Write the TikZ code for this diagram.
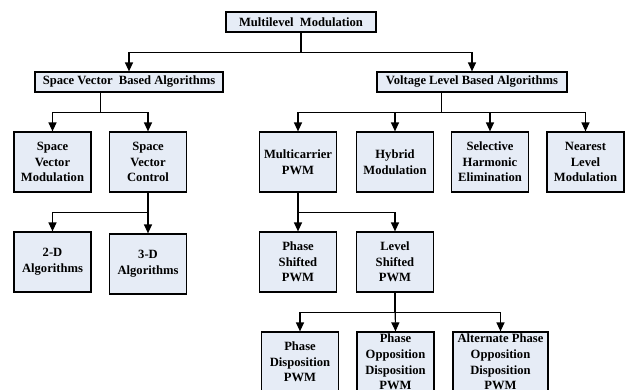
\documentclass[tikz,border=0pt]{standalone}
\usepackage{fontspec}
\setmainfont{Liberation Serif}
\usetikzlibrary{arrows.meta,calc}
\definecolor{boxfill}{HTML}{E6ECF6}
\begin{document}
\begin{tikzpicture}[x=1pt,y=-1pt,
  box/.style={draw=black,line width=1.2pt,fill=boxfill,rectangle,inner sep=0pt,
    minimum width=77pt,minimum height=60pt,align=center,
    font=\fontsize{12.6pt}{15.6pt}\selectfont\bfseries},
  wide/.style={box,minimum height=20pt},
  conn/.style={line width=1.2pt,draw=black},
  arr/.style={conn,-{Triangle[length=9pt,width=8pt]}}]
\path[use as bounding box] (0,0) rectangle (627,389);
\begin{scope}
\clip (0,0) rectangle (627,389);
% level 1-2
\node[wide,minimum width=150pt] (top) at (301,22) {Multilevel\ \ Modulation};
\node[wide,minimum width=188pt] (svba) at (129,82) {Space Vector\ \ Based Algorithms};
\node[wide,minimum width=190pt] (vlba) at (472,82) {Voltage Level Based Algorithms};
% level 3
\node[box] (smod) at (52.5,162) {Space\\Vector\\Modulation};
\node[box] (sctl) at (148,162) {Space\\Vector\\Control};
\node[box] (mc) at (298,162) {Multicarrier\\PWM};
\node[box] (hm) at (395,162) {Hybrid\\Modulation};
\node[box] (she) at (490,162) {Selective\\Harmonic\\Elimination};
\node[box] (nlm) at (585.5,162) {Nearest\\Level\\Modulation};
% level 4
\node[box] (twod) at (52.5,262) {2-D\\Algorithms};
\node[box] (threed) at (148,264) {3-D\\Algorithms};
\node[box] (ps) at (298,262) {Phase\\Shifted\\PWM};
\node[box] (ls) at (395,262) {Level\\Shifted\\PWM};
% level 5
\node[box] (pd) at (300,362) {Phase\\Disposition\\PWM};
\node[box] (pod) at (395.5,362) {Phase\\Opposition\\Disposition\\PWM};
\node[box,minimum width=95pt] (apod) at (500.5,362) {Alternate Phase\\Opposition\\Disposition\\PWM};
% helper coordinates
\coordinate (m1) at ($(smod.north)!.5!(sctl.north)$);
\coordinate (m2) at ($(mc.north)!.5!(nlm.north)$);
% connectors
\draw[arr] (top.south) -- ++(0,20) -| (svba.north);
\draw[arr] (top.south) -- ++(0,20) -| (vlba.north);
\draw[arr] (m1 |- svba.south) -- ++(0,20) -| (smod.north);
\draw[arr] (m1 |- svba.south) -- ++(0,20) -| (sctl.north);
\draw[arr] (m2 |- vlba.south) -- ++(0,20) -| (mc.north);
\draw[arr] (m2 |- vlba.south) -- ++(0,20) -| (hm.north);
\draw[arr] (m2 |- vlba.south) -- ++(0,20) -| (she.north);
\draw[arr] (m2 |- vlba.south) -- ++(0,20) -| (nlm.north);
\draw[arr] (sctl.south) -- ++(0,20) -| (twod.north);
\draw[arr] (sctl.south) -- (threed.north);
\draw[arr] (mc.south) -- (ps.north);
\draw[arr] (mc.south) -- ++(0,20) -| (ls.north);
\draw[arr] (ls.south) -- ++(0,20) -| (pd.north);
\draw[arr] (ls.south) -- (pod.north);
\draw[arr] (ls.south) -- ++(0,20) -| (apod.north);
\end{scope}
\end{tikzpicture}
\end{document}
